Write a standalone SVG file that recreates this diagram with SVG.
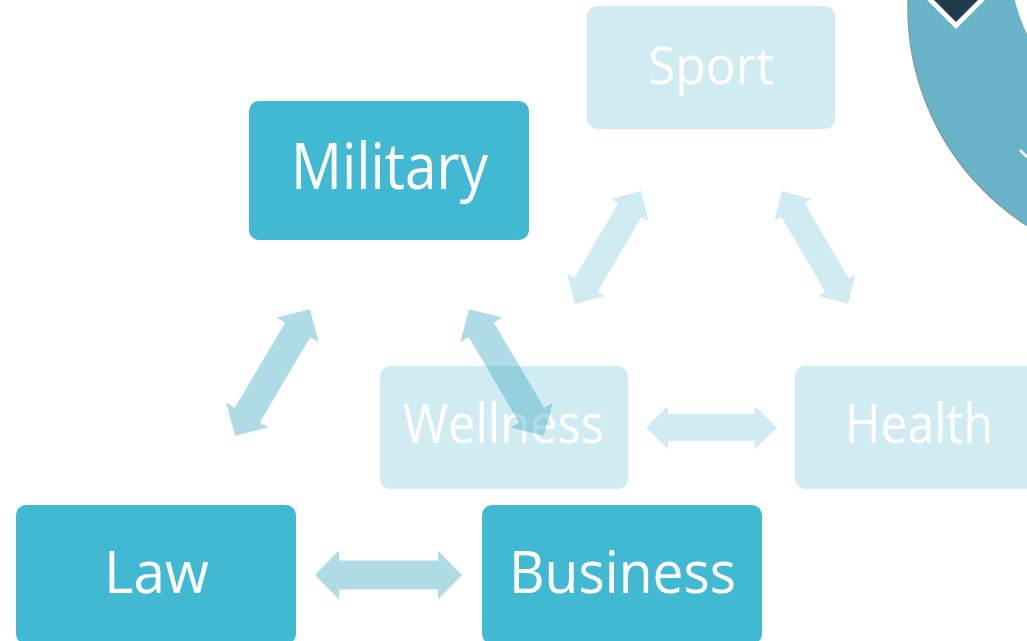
<svg xmlns="http://www.w3.org/2000/svg" xmlns:xlink="http://www.w3.org/1999/xlink" width="1027" height="641" viewBox="0 0 1027 641">
<style>
.dark{fill:#42b9d3;}
.light{fill:#d0ecf2;}
.lbl{font-family:"Open Sans","Noto Sans","Liberation Sans",sans-serif;fill:#ffffff;text-anchor:middle;}
.big{fill:#4eb0c8;fill-opacity:0.45;}
.small{fill:#d0ecf2;}
</style>
<defs>
<path id="bigArrow" d="M-73.5,0 L-49.5,-24.5 L-49.5,-14.5 L49.5,-14.5 L49.5,-24.5 L73.5,0 L49.5,24.5 L49.5,14.5 L-49.5,14.5 L-49.5,24.5 Z"/>
<path id="smallArrow" d="M-65.5,0 L-43.5,-21.5 L-43.5,-13.5 L43.5,-13.5 L43.5,-21.5 L65.5,0 L43.5,21.5 L43.5,13.5 L-43.5,13.5 L-43.5,21.5 Z"/>
</defs>
<rect width="1027" height="641" fill="#ffffff"/>
<g id="decoration">
<circle cx="1166" cy="8" r="258" fill="#68b3c8" stroke="#7f9ea8" stroke-width="1.5"/>
<circle cx="1180" cy="-40" r="170" fill="#ffffff"/>
<polygon points="956,29 989,-4 956,-37 923,-4" fill="#ffffff"/>
<polygon points="956,22 982,-4 956,-30 930,-4" fill="#1f3a4b"/>
<line x1="1020" y1="150" x2="1027" y2="157" stroke="#ffffff" stroke-width="2.5"/>
</g>
<g id="node-sport">
<rect class="light" x="587" y="6" width="248" height="123" rx="10"/>
<text class="lbl" x="711" y="84" font-size="51" textLength="126" lengthAdjust="spacingAndGlyphs">Sport</text>
</g>
<g id="node-health">
<rect class="light" x="795" y="366" width="248" height="123" rx="10"/>
<text class="lbl" x="919" y="443" font-size="54" textLength="148" lengthAdjust="spacingAndGlyphs">Health</text>
</g>
<g id="node-wellness">
<rect class="light" x="380" y="366" width="248" height="123" rx="10"/>
<text class="lbl" x="503.5" y="443" font-size="54" textLength="201" lengthAdjust="spacingAndGlyphs">Wellness</text>
</g>
<g id="node-military">
<rect class="dark" x="249" y="101" width="280" height="139" rx="10"/>
<text class="lbl" x="389.5" y="189" font-size="64" textLength="197" lengthAdjust="spacingAndGlyphs">Military</text>
</g>
<g id="node-law">
<rect class="dark" x="16" y="505" width="280" height="139" rx="10"/>
<text class="lbl" x="156.5" y="593" font-size="59" textLength="105" lengthAdjust="spacingAndGlyphs">Law</text>
</g>
<g id="node-business">
<rect class="dark" x="482" y="505" width="280" height="139" rx="10"/>
<text class="lbl" x="622.5" y="593" font-size="59" textLength="227" lengthAdjust="spacingAndGlyphs">Business</text>
</g>
<g id="connectors">
<use xlink:href="#smallArrow" class="small" transform="translate(608,247.5) rotate(-59.7)"/>
<use xlink:href="#smallArrow" class="small" transform="translate(815,247.5) rotate(59.7)"/>
<use xlink:href="#smallArrow" class="small" transform="translate(711.5,427.5)"/>
<use xlink:href="#bigArrow" class="big" transform="translate(388.5,575)"/>
<use xlink:href="#bigArrow" class="big" transform="translate(272.5,372.5) rotate(-59.4)"/>
<use xlink:href="#bigArrow" class="big" transform="translate(506.5,372.5) rotate(59.4)"/>
</g>
</svg>
